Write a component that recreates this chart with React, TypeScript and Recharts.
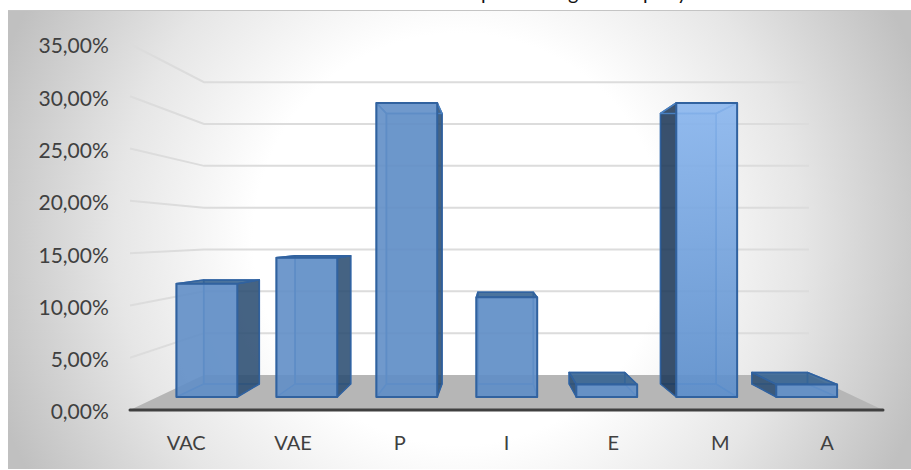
import React from 'react';
import { BarChart, Bar, XAxis, YAxis, CartesianGrid } from 'recharts';

const categories = ['VAC', 'VAE', 'P', 'I', 'E', 'M', 'A'];
const shares = [11.7, 14.4, 30.4, 10.3, 1.3, 30.4, 1.3];
const yTicks = [0, 5, 10, 15, 20, 25, 30, 35];
const highlighted = 'M';

const chartData = categories.map((name, i) => ({ name, share: shares[i] }));

const FONT = 'Lato, "Open Sans", sans-serif';

// fake 3D: the axis scale is the front edge of the floor, everything else is projected back from it
const AXIS_Y = 410;
const WALL_LEFT = 204;
const WALL_RIGHT = 809;
const FLOOR_LEFT = 130;
const FLOOR_RIGHT = 883;
const WALL_Y = 375;
const WALL_SCALE = 0.8;

const FRONT = { base: 397, scale: 0.925 };
const BACK = { base: 384, scale: 0.851 };
const FRONT_VX = 508;
const FRONT_K = 0.936;
const BACK_VX = 493;
const BACK_K = 0.914;

const pts = (list: number[][]) => list.map((p) => p.join(',')).join(' ');

function GridLine(props: any) {
  const { y1: y } = props;
  if (Math.abs(y - AXIS_Y) < 1) {
    return (
      <g key={props.key}>
        <polygon
          points={pts([[FLOOR_LEFT, AXIS_Y], [WALL_LEFT, WALL_Y], [WALL_RIGHT, WALL_Y], [FLOOR_RIGHT, AXIS_Y]])}
          fill="#b6b6b6"
        />
        <line x1={FLOOR_LEFT} x2={FLOOR_RIGHT} y1={AXIS_Y} y2={AXIS_Y} stroke="#404040" strokeWidth={3} strokeLinecap="round" />
      </g>
    );
  }
  const wallY = WALL_Y - (AXIS_Y - y) * WALL_SCALE;
  return (
    <polyline
      key={props.key}
      points={pts([[FLOOR_LEFT, y], [WALL_LEFT, wallY], [WALL_RIGHT, wallY]])}
      fill="none"
      stroke="#dcdcdc"
      strokeWidth={2}
    />
  );
}

function Bar3D(props: any) {
  const { x, width, height, payload } = props;
  const isLight = payload.name === highlighted;

  const fl = FRONT_VX + (x - FRONT_VX) * FRONT_K;
  const fr = FRONT_VX + (x + width - FRONT_VX) * FRONT_K;
  const bl = BACK_VX + (fl - BACK_VX) * BACK_K;
  const br = BACK_VX + (fr - BACK_VX) * BACK_K;
  const ft = FRONT.base - height * FRONT.scale;
  const bt = BACK.base - height * BACK.scale;
  const fb = FRONT.base;
  const bb = BACK.base;

  const face = isLight ? 'url(#lightFace)' : '#608ec6';
  const edge = '#31629f';
  const inner = '#4a80c0';
  const leftOut = bl < fl;
  const rightOut = br > fr;
  const topOut = bt < ft;
  const sideFill = isLight ? '#1c3655' : '#2c4c70';

  return (
    <g strokeLinejoin="round">
      {/* inside of the box, seen through the front */}
      <polygon points={pts([[bl, bt], [br, bt], [br, bb], [bl, bb]])} fill={isLight ? '#7aa7de' : '#608ec6'} fillOpacity={0.25} stroke={inner} strokeWidth={1.5} />
      <polygon points={pts([[fl, fb], [bl, bb], [br, bb], [fr, fb]])} fill="#608ec6" fillOpacity={0.3} stroke={inner} strokeWidth={1} />
      <polygon
        points={pts([[fl, ft], [bl, bt], [bl, bb], [fl, fb]])}
        fill={leftOut ? sideFill : 'none'}
        fillOpacity={0.85}
        stroke={leftOut ? edge : inner}
        strokeWidth={1.5}
      />
      <polygon
        points={pts([[fr, ft], [br, bt], [br, bb], [fr, fb]])}
        fill={rightOut ? sideFill : 'none'}
        fillOpacity={0.85}
        stroke={rightOut ? edge : inner}
        strokeWidth={1.5}
      />
      <polygon
        points={pts([[fl, ft], [bl, bt], [br, bt], [fr, ft]])}
        fill={topOut ? '#33608f' : 'none'}
        fillOpacity={0.85}
        stroke={topOut ? edge : inner}
        strokeWidth={1.5}
      />
      <polygon points={pts([[fl, ft], [fr, ft], [fr, fb], [fl, fb]])} fill={face} fillOpacity={0.9} stroke={edge} strokeWidth={2} />
    </g>
  );
}

export default function App() {
  return (
    <div style={{ position: 'absolute', left: 0, top: 0, width: 911, height: 470, overflow: 'hidden', background: '#fff' }}>
      <div
        style={{
          position: 'absolute',
          left: 8,
          top: 10,
          width: 903,
          height: 459,
          borderTop: '1.5px solid #c4c4c4',
          boxSizing: 'border-box',
          background:
            'radial-gradient(circle 490px at 451px 228px, #fff 0%, #fff 42%, #e6e6e6 70%, #c0c0c0 100%)',
        }}
      />
      <BarChart
        width={911}
        height={470}
        data={chartData}
        margin={{ top: 44, right: 30.6, bottom: 0, left: 0 }}
        style={{ position: 'absolute', left: 0, top: 0 }}
      >
        <text y={0} fontFamily={FONT} fontSize={20} fill="#111">
          <tspan x={481}>p</tspan>
          <tspan x={568}>g</tspan>
          <tspan x={643}>p</tspan>
          <tspan x={677}>y</tspan>
        </text>
        <CartesianGrid vertical={false} horizontal={GridLine} />
        <XAxis
          dataKey="name"
          height={60}
          axisLine={false}
          tickLine={false}
          tickMargin={20}
          tick={{ fontSize: 20, fontFamily: FONT, fill: '#404040' }}
        />
        <YAxis
          width={132.8}
          domain={[0, 35]}
          ticks={yTicks}
          axisLine={false}
          tickLine={false}
          tickMargin={18}
          tickFormatter={(v: number) => `${v.toFixed(2).replace('.', ',')}%`}
          tick={{ fontSize: 21, fontFamily: FONT, fill: '#404040', dy: 2 }}
        />
        <defs>
          <linearGradient id="lightFace" x1="0" y1="0" x2="0" y2="1">
            <stop offset="0%" stopColor="#8ab6ee" />
            <stop offset="100%" stopColor="#5c8ecb" />
          </linearGradient>
        </defs>
        <Bar dataKey="share" barSize={65} shape={Bar3D} isAnimationActive={false} />
      </BarChart>
    </div>
  );
}
